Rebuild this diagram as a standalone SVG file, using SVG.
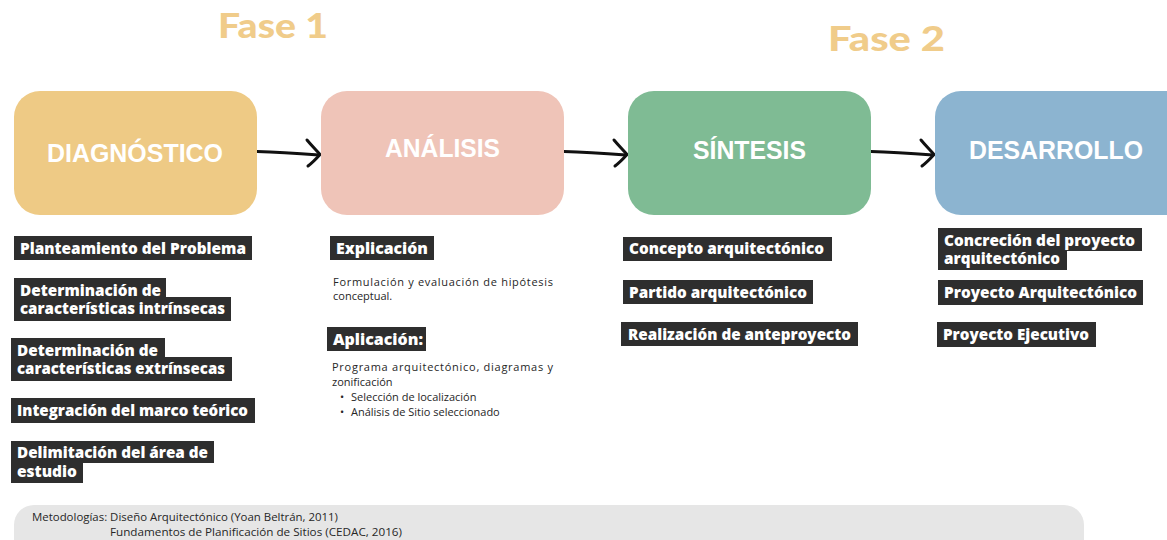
<svg xmlns="http://www.w3.org/2000/svg" width="1167" height="540" viewBox="0 0 1167 540">
<style>
.fase{font-family:Lato,"Open Sans",sans-serif;font-weight:900;font-size:34px;fill:#F0CC8A}
.head{font-family:"Liberation Sans",Arial,sans-serif;font-weight:700;font-size:25px;fill:#ffffff}
.lb{fill:#2e2e2e}
.lt{font-family:"Open Sans","Liberation Sans",sans-serif;font-weight:800;font-size:15px;fill:#ffffff}
.p{font-family:"Open Sans","Liberation Sans",sans-serif;font-size:11px;fill:#262626}
.m{font-family:"Open Sans","Liberation Sans",sans-serif;font-size:11px;fill:#262626}
.arr{fill:none;stroke:#111111;stroke-width:3;stroke-linecap:round;stroke-linejoin:round}
</style>
<rect width="1167" height="540" fill="#ffffff"/>
<text class="fase" x="218" y="38" textLength="110" lengthAdjust="spacingAndGlyphs">Fase 1</text>
<text class="fase" x="828" y="51" textLength="117" lengthAdjust="spacingAndGlyphs">Fase 2</text>

<g id="connectors">
  <g id="arrow1">
    <path class="arr" d="M257,151.5 C280,152 300,153.5 319,155"/>
    <path class="arr" d="M307,140 C312,146 316,150 320,154.5 C316,159 312,163 308,166"/>
  </g>
  <g id="arrow2" transform="translate(307,0)">
    <path class="arr" d="M257,151.5 C280,152 300,153.5 319,155"/>
    <path class="arr" d="M307,140 C312,146 316,150 320,154.5 C316,159 312,163 308,166"/>
  </g>
  <g id="arrow3" transform="translate(614,0)">
    <path class="arr" d="M257,151.5 C280,152 300,153.5 319,155"/>
    <path class="arr" d="M307,140 C312,146 316,150 320,154.5 C316,159 312,163 308,166"/>
  </g>
</g>

<g id="diagnostico">
  <rect x="14" y="91" width="243" height="124" rx="26" fill="#EECA85"/>
  <text class="head" x="47" y="162" textLength="176" lengthAdjust="spacingAndGlyphs">DIAGNÓSTICO</text>
</g>
<g id="analisis">
  <rect x="321" y="91" width="243" height="124" rx="26" fill="#EFC4B8"/>
  <text class="head" x="385" y="157" textLength="115" lengthAdjust="spacingAndGlyphs">ANÁLISIS</text>
</g>
<g id="sintesis">
  <rect x="628" y="91" width="243" height="124" rx="26" fill="#7FBB94"/>
  <text class="head" x="693" y="159" textLength="113" lengthAdjust="spacingAndGlyphs">SÍNTESIS</text>
</g>
<g id="desarrollo">
  <rect x="935" y="91" width="260" height="124" rx="26" fill="#8CB4D0"/>
  <text class="head" x="969" y="159" textLength="174" lengthAdjust="spacingAndGlyphs">DESARROLLO</text>
</g>

<g id="diag-items">
  <rect class="lb" x="14" y="236" width="238" height="24"/>
  <text class="lt" x="20" y="254" textLength="226" lengthAdjust="spacingAndGlyphs">Planteamiento del Problema</text>

  <rect class="lb" x="14" y="278" width="152" height="22"/>
  <rect class="lb" x="14" y="297" width="217" height="24"/>
  <text class="lt" x="20" y="296" textLength="141" lengthAdjust="spacingAndGlyphs">Determinación de</text>
  <text class="lt" x="20" y="314" textLength="205" lengthAdjust="spacingAndGlyphs">características intrínsecas</text>

  <rect class="lb" x="11" y="338" width="154" height="22"/>
  <rect class="lb" x="11" y="357" width="221" height="24"/>
  <text class="lt" x="17" y="356" textLength="141" lengthAdjust="spacingAndGlyphs">Determinación de</text>
  <text class="lt" x="17" y="374" textLength="208" lengthAdjust="spacingAndGlyphs">características extrínsecas</text>

  <rect class="lb" x="11" y="398" width="244" height="25"/>
  <text class="lt" x="17" y="416" textLength="231" lengthAdjust="spacingAndGlyphs">Integración del marco teórico</text>

  <rect class="lb" x="11" y="441" width="203" height="22"/>
  <rect class="lb" x="11" y="460" width="72" height="23"/>
  <text class="lt" x="17" y="458" textLength="191" lengthAdjust="spacingAndGlyphs">Delimitación del área de</text>
  <text class="lt" x="17" y="477" textLength="60" lengthAdjust="spacingAndGlyphs">estudio</text>
</g>

<g id="anal-items">
  <rect class="lb" x="330" y="236" width="104" height="24"/>
  <text class="lt" x="336" y="254" textLength="92" lengthAdjust="spacingAndGlyphs">Explicación</text>
  <text class="p" x="333" y="286" textLength="220" lengthAdjust="spacing">Formulación y evaluación de hipótesis</text>
  <text class="p" x="333" y="300">conceptual.</text>

  <rect class="lb" x="327" y="327" width="99" height="24"/>
  <text class="lt" x="333" y="345" textLength="90" lengthAdjust="spacingAndGlyphs">Aplicación:</text>
  <text class="p" x="332" y="371" textLength="221" lengthAdjust="spacing">Programa arquitectónico, diagramas y</text>
  <text class="p" x="332" y="386">zonificación</text>
  <text class="p" x="340" y="401">•</text>
  <text class="p" x="351" y="401">Selección de localización</text>
  <text class="p" x="340" y="416">•</text>
  <text class="p" x="351" y="416">Análisis de Sitio seleccionado</text>
</g>

<g id="sint-items">
  <rect class="lb" x="623" y="237" width="209" height="24"/>
  <text class="lt" x="629" y="254" textLength="195" lengthAdjust="spacingAndGlyphs">Concepto arquitectónico</text>
  <rect class="lb" x="623" y="280" width="190" height="24"/>
  <text class="lt" x="629" y="298" textLength="178" lengthAdjust="spacingAndGlyphs">Partido arquitectónico</text>
  <rect class="lb" x="621" y="322" width="237" height="24"/>
  <text class="lt" x="628" y="340" textLength="223" lengthAdjust="spacingAndGlyphs">Realización de anteproyecto</text>
</g>

<g id="desa-items">
  <rect class="lb" x="938" y="228" width="204" height="23"/>
  <rect class="lb" x="938" y="249" width="129" height="21"/>
  <text class="lt" x="944" y="246" textLength="191" lengthAdjust="spacingAndGlyphs">Concreción del proyecto</text>
  <text class="lt" x="944" y="264" textLength="116" lengthAdjust="spacingAndGlyphs">arquitectónico</text>
  <rect class="lb" x="938" y="280" width="205" height="25"/>
  <text class="lt" x="944" y="298" textLength="193" lengthAdjust="spacingAndGlyphs">Proyecto Arquitectónico</text>
  <rect class="lb" x="937" y="322" width="159" height="25"/>
  <text class="lt" x="943" y="340" textLength="146" lengthAdjust="spacingAndGlyphs">Proyecto Ejecutivo</text>
</g>

<g id="metodologias">
  <rect x="14" y="505" width="1070" height="70" rx="20" fill="#E6E6E6"/>
  <text class="m" x="32" y="521" textLength="306" lengthAdjust="spacingAndGlyphs">Metodologías: Diseño Arquitectónico (Yoan Beltrán, 2011)</text>
  <text class="m" x="110" y="536" textLength="292" lengthAdjust="spacingAndGlyphs">Fundamentos de Planificación de Sitios (CEDAC, 2016)</text>
</g>
</svg>
